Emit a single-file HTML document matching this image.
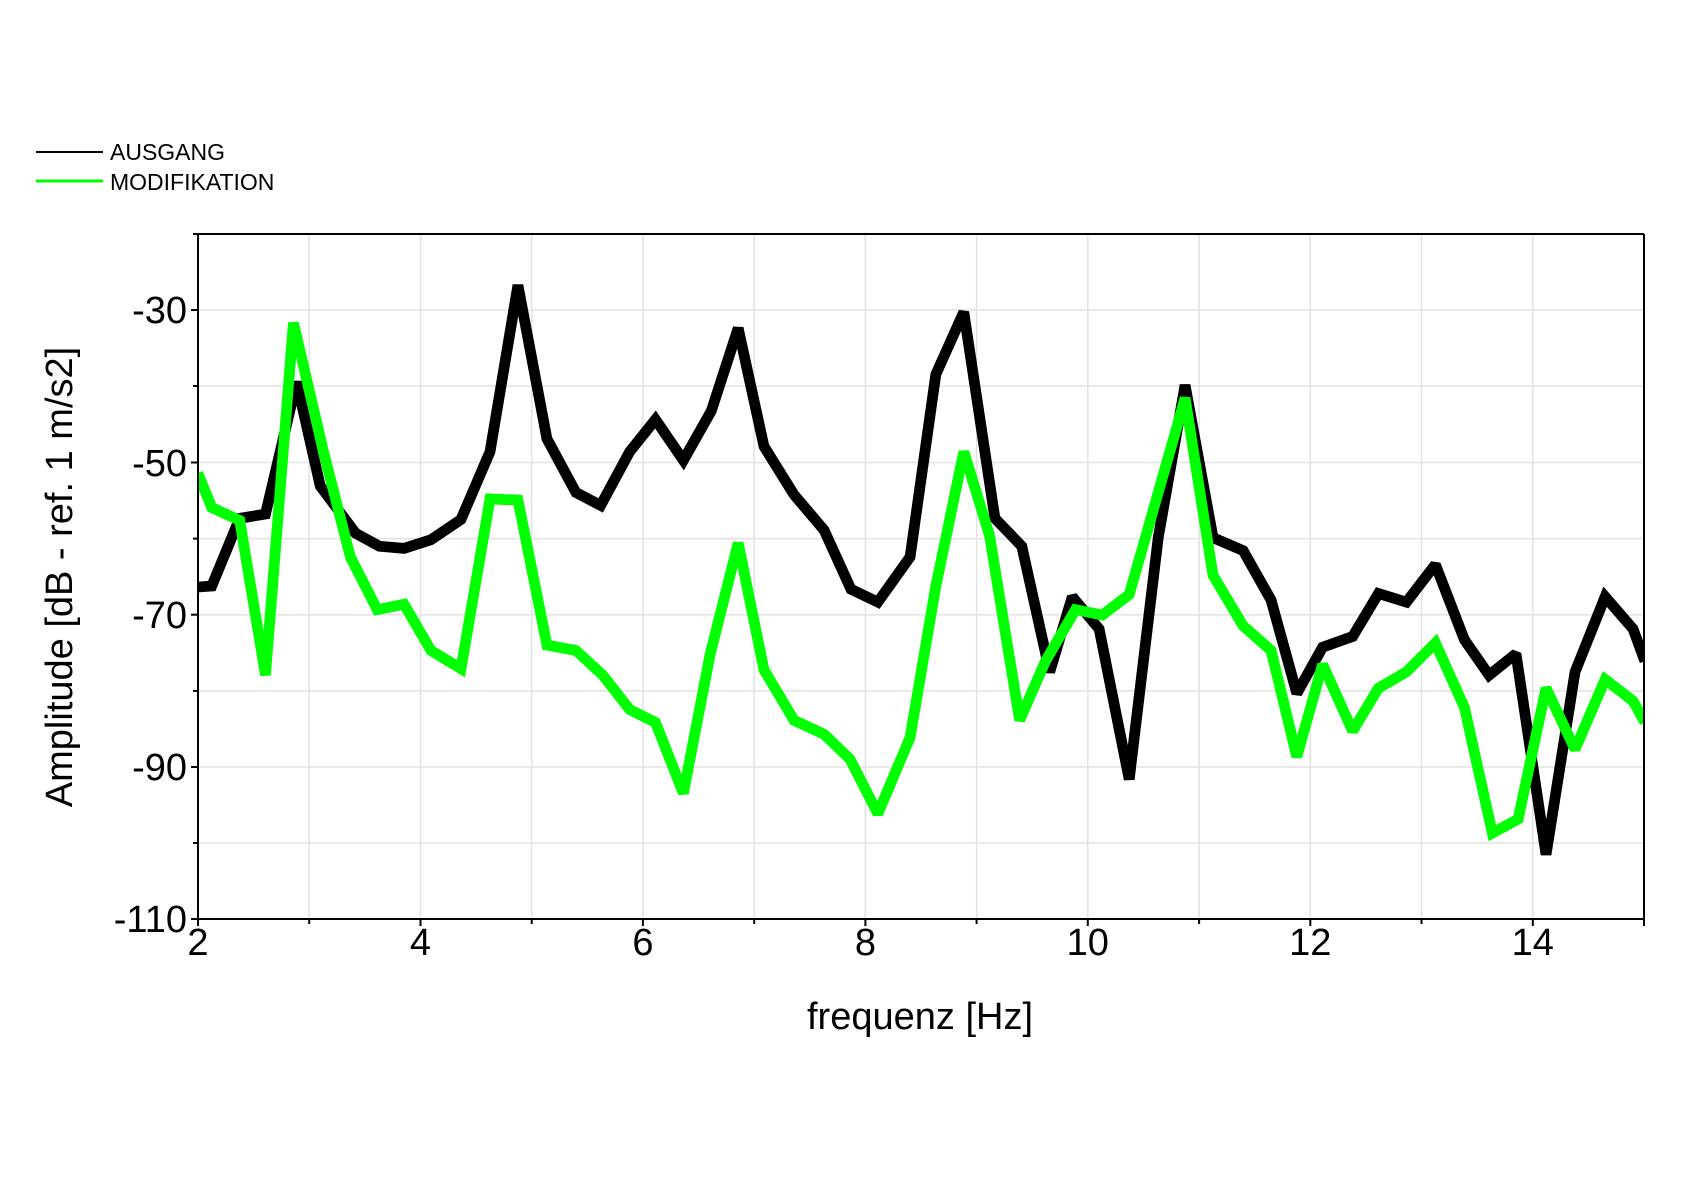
<!DOCTYPE html>
<html><head><meta charset="utf-8"><style>body{margin:0;background:#fff}svg{display:block}</style></head><body>
<svg width="1686" height="1192" viewBox="0 0 1686 1192" xmlns="http://www.w3.org/2000/svg" font-family="Liberation Sans, sans-serif">
<rect width="1686" height="1192" fill="#fff"/>
<g stroke="#e2e2e2" stroke-width="1.5">
<line x1="309.2" y1="234" x2="309.2" y2="919"/><line x1="420.5" y1="234" x2="420.5" y2="919"/><line x1="531.7" y1="234" x2="531.7" y2="919"/><line x1="642.9" y1="234" x2="642.9" y2="919"/><line x1="754.2" y1="234" x2="754.2" y2="919"/><line x1="865.4" y1="234" x2="865.4" y2="919"/><line x1="976.6" y1="234" x2="976.6" y2="919"/><line x1="1087.8" y1="234" x2="1087.8" y2="919"/><line x1="1199.1" y1="234" x2="1199.1" y2="919"/><line x1="1310.3" y1="234" x2="1310.3" y2="919"/><line x1="1421.5" y1="234" x2="1421.5" y2="919"/><line x1="1532.8" y1="234" x2="1532.8" y2="919"/>
<line x1="198" y1="310" x2="1644" y2="310"/><line x1="198" y1="386" x2="1644" y2="386"/><line x1="198" y1="462.5" x2="1644" y2="462.5"/><line x1="198" y1="538.6" x2="1644" y2="538.6"/><line x1="198" y1="614.7" x2="1644" y2="614.7"/><line x1="198" y1="690.9" x2="1644" y2="690.9"/><line x1="198" y1="767" x2="1644" y2="767"/><line x1="198" y1="843" x2="1644" y2="843"/>
</g>
<g transform="translate(1.2,0.5) scale(1.0743)" fill="none" stroke-linejoin="miter" stroke-miterlimit="2" stroke-width="10">
<polyline stroke="#000" points="183,546 196,545 222,482 246,478 275,355 297,452 330,496 352,508 375,510 400,502 428,483 455,420 481,265 508,408 535,458 558,470 585,420 609,390 635,428 661,382 686,305 710,415 738,460 766,493 791,548 816,560 846,518 870,348 896,290 925,482 950,508 976,625 997,555 1022,585 1050,725 1077,500 1102,358 1128,500 1156,512 1182,558 1206,645 1230,602 1258,592 1282,552 1308,560 1335,525 1362,595 1385,628 1410,608 1438,795 1465,625 1493,555 1519,585 1530,615"/>
<polyline stroke="#00ff00" points="183,440 196,472 222,484 246,628 272,300 300,420 325,518 350,567 375,562 400,605 428,622 455,464 481,465 508,600 535,605 560,628 585,660 609,672 635,738 660,608 686,505 710,623 738,670 766,683 790,706 816,757 846,686 870,545 896,420 920,498 948,670 972,615 1000,567 1025,572 1050,553 1075,465 1102,370 1128,535 1156,582 1182,605 1206,704 1230,618 1258,680 1282,640 1308,625 1335,598 1362,658 1388,775 1412,762 1438,640 1465,697 1493,632 1519,652 1530,672"/>
</g>
<rect x="0" y="0" width="197" height="1192" fill="#fff"/>
<rect x="1645" y="0" width="41" height="1192" fill="#fff"/>
<g stroke="#000" stroke-width="2">
<line x1="193" y1="234" x2="1644" y2="234"/>
<line x1="1644" y1="234" x2="1644" y2="926"/>
<line x1="198" y1="234" x2="198" y2="926"/>
<line x1="191" y1="919" x2="1644" y2="919"/>
<line x1="191" y1="310" x2="198" y2="310"/><line x1="191" y1="462.5" x2="198" y2="462.5"/><line x1="191" y1="614.7" x2="198" y2="614.7"/><line x1="191" y1="767" x2="198" y2="767"/>
<line x1="193" y1="386" x2="198" y2="386"/><line x1="193" y1="538.6" x2="198" y2="538.6"/><line x1="193" y1="690.9" x2="198" y2="690.9"/><line x1="193" y1="843" x2="198" y2="843"/>
<line x1="420.5" y1="919" x2="420.5" y2="926"/><line x1="642.9" y1="919" x2="642.9" y2="926"/><line x1="865.4" y1="919" x2="865.4" y2="926"/><line x1="1087.8" y1="919" x2="1087.8" y2="926"/><line x1="1310.3" y1="919" x2="1310.3" y2="926"/><line x1="1532.8" y1="919" x2="1532.8" y2="926"/>
<line x1="309.2" y1="919" x2="309.2" y2="924"/><line x1="531.7" y1="919" x2="531.7" y2="924"/><line x1="754.2" y1="919" x2="754.2" y2="924"/><line x1="976.6" y1="919" x2="976.6" y2="924"/><line x1="1199.1" y1="919" x2="1199.1" y2="924"/><line x1="1421.5" y1="919" x2="1421.5" y2="924"/>
</g>
<g font-size="38" fill="#000" text-anchor="end">
<text x="187" y="323">-30</text><text x="187" y="476">-50</text><text x="187" y="628">-70</text><text x="187" y="780">-90</text><text x="187" y="932">-110</text>
</g>
<g font-size="38" fill="#000" text-anchor="middle">
<text x="198" y="955">2</text><text x="420.5" y="955">4</text><text x="642.9" y="955">6</text><text x="865.4" y="955">8</text><text x="1087.8" y="955">10</text><text x="1310.3" y="955">12</text><text x="1532.8" y="955">14</text>
<text x="920" y="1029">frequenz [Hz]</text>
<text transform="translate(72,577) rotate(-90)">Amplitude [dB - ref. 1 m/s2]</text>
</g>
<line x1="36" y1="152" x2="103" y2="152" stroke="#000" stroke-width="2"/>
<line x1="36" y1="181" x2="103" y2="181" stroke="#00ff00" stroke-width="3"/>
<text x="110" y="160" font-size="23" fill="#000">AUSGANG</text>
<text x="110" y="190" font-size="23" fill="#000">MODIFIKATION</text>
</svg>
</body></html>
